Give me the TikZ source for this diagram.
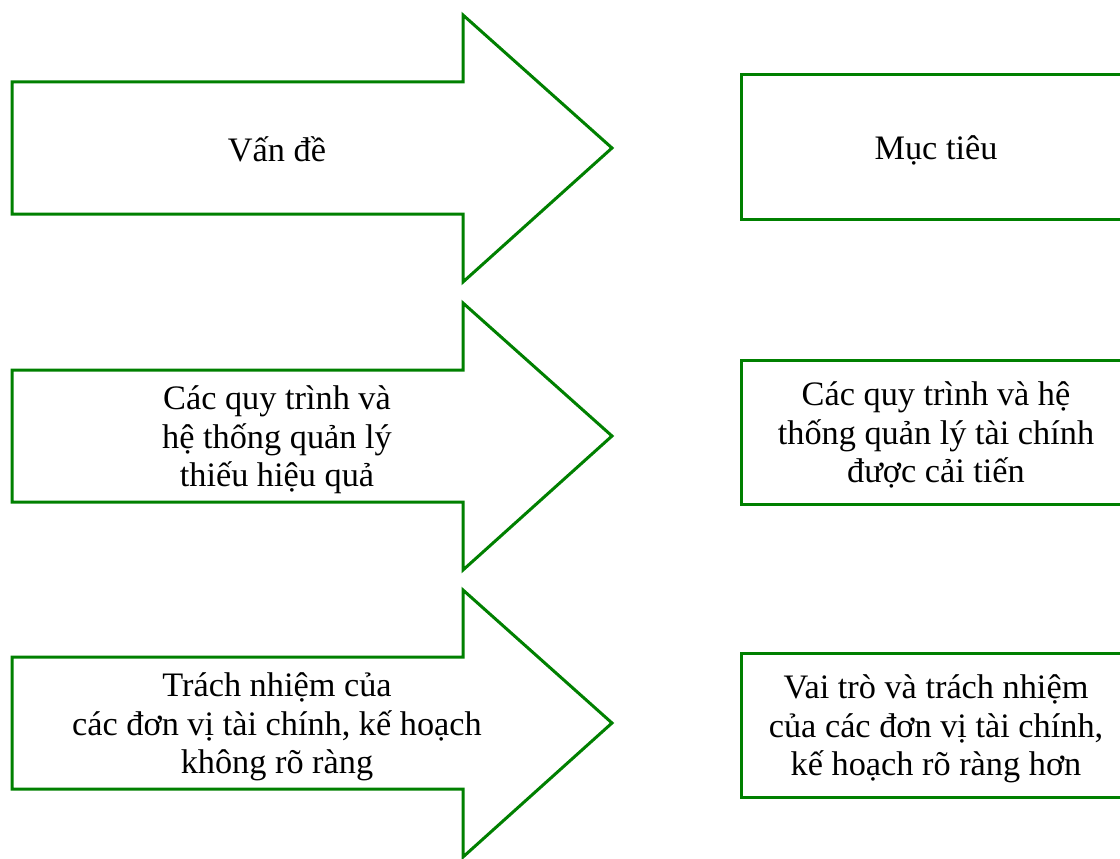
\documentclass[tikz,border=0pt]{standalone}
\usepackage{fontspec}
\setmainfont{Liberation Serif}
\definecolor{shapegreen}{RGB}{0,128,0}
\tikzset{
  outline/.style={draw=shapegreen, line width=3pt, line join=miter},
  label/.style={align=center, font=\fontsize{34.3}{38.5}\selectfont, inner sep=0pt}
}
\begin{document}
\begin{tikzpicture}[x=1pt,y=-1pt]
\useasboundingbox (0,0) rectangle (1120,859);
\clip (0,0) rectangle (1120,859);
% left arrows
\foreach \c in {148,436,723}{
  \draw[outline] (12,\c-66) -- (463,\c-66) -- (463,\c-133) -- (612,\c) -- (463,\c+134) -- (463,\c+66) -- (12,\c+66) -- cycle;
}
% right boxes
\draw[outline] (741,75) rectangle (1130,219);
\draw[outline] (741,360) rectangle (1130,504);
\draw[outline] (741,653) rectangle (1130,797);
% texts
\node[label] (p1) at (277,149) {Vấn đề};
\node[label] (p2) at (277,440) {Các quy trình và\\hệ thống quản lý\\thiếu hiệu quả};
\node[label] (p3) at (277,727) {Trách nhiệm của\\các đơn vị tài chính, kế hoạch\\không rõ ràng};
\node[label] (g1) at (936,150) {Mục tiêu};
\node[label] (g2) at (936,435) {Các quy trình và hệ\\thống quản lý tài chính\\được cải tiến};
\node[label] (g3) at (936,729) {Vai trò và trách nhiệm\\của các đơn vị tài chính,\\kế hoạch rõ ràng hơn};
\end{tikzpicture}
\end{document}
